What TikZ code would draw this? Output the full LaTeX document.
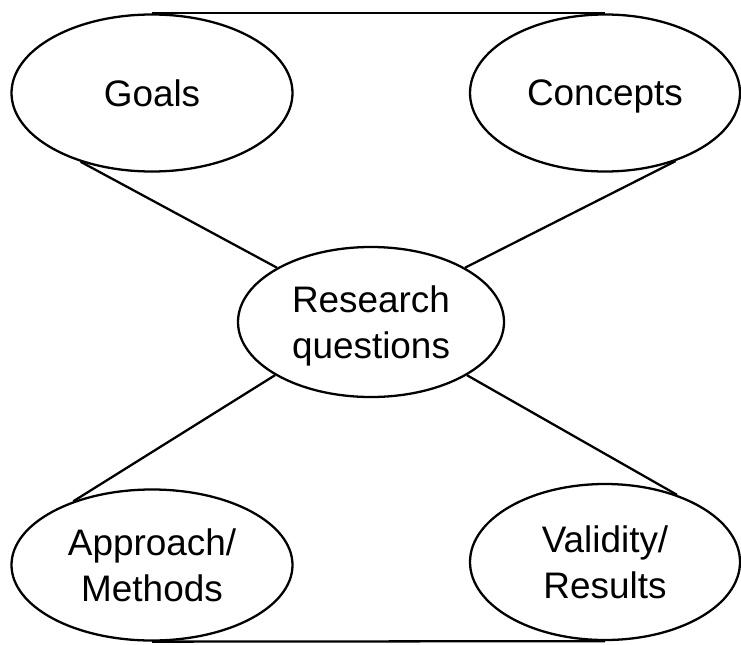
\documentclass[tikz,border=0pt]{standalone}
\usepackage{fontspec}
\setmainfont{Liberation Sans}
\usetikzlibrary{shapes.geometric}

\tikzset{
	part/.style={draw, ellipse, line width=1.3pt, inner sep=0pt, align=center,
		text depth=0pt, font=\fontsize{21}{26}\selectfont},
	link/.style={line width=1.3pt}
}

\begin{document}
\begin{tikzpicture}[]
		\useasboundingbox (0,0) rectangle (14.82,-12.88);
		%draw ellipses
		\node[part, minimum width=5.62cm, minimum height=3.14cm] (goals) at (3.04,-1.86) {Goals};
		\node[part, minimum width=5.4cm, minimum height=3.14cm] (concepts) at (12.1,-1.86) {Concepts};
		\node[part, minimum width=5.32cm, minimum height=3.0cm] (rq) at (7.42,-6.44) {Research\\questions};
		\node[part, minimum width=5.62cm, minimum height=3.02cm] (approach) at (3.04,-11.3) {Approach/\\Methods};
		\node[part, minimum width=5.4cm, minimum height=3.12cm] (validity) at (12.1,-11.24) {Validity/\\Results};
		%draw lines
		\draw[link] (goals.north) -- (concepts.north);
		\draw[link] (goals.224) -- (rq.150);
		\draw[link] (concepts.-44) -- (rq.30);
		\draw[link] (rq.209) -- (approach.141);
		\draw[link] (rq.-29) -- (validity.43);
		\draw[link] (approach.south) -- (validity.south);
\end{tikzpicture}
\end{document}
